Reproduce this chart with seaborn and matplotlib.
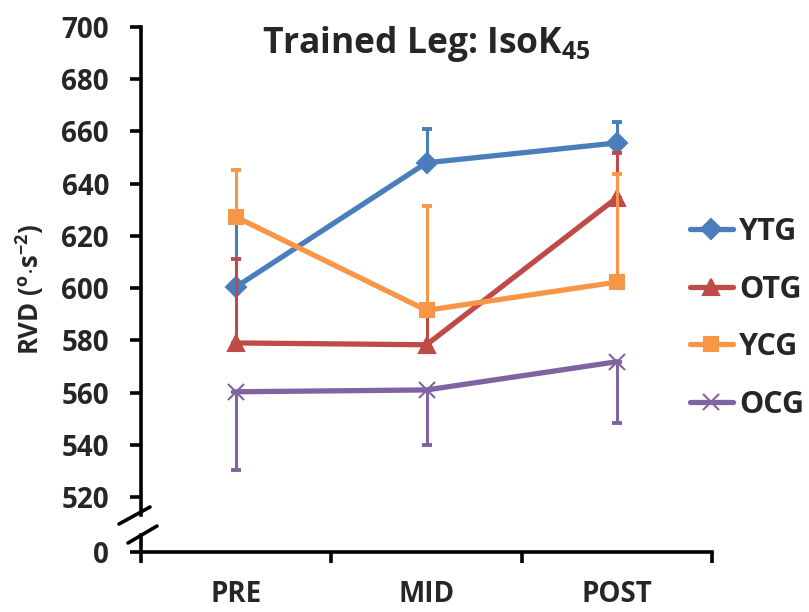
import matplotlib
matplotlib.use("Agg")
import matplotlib.pyplot as plt
import seaborn as sns
import numpy as np
from matplotlib.lines import Line2D

# ---- data ----
categories = ["PRE", "MID", "POST"]
series_names = ["YTG", "OTG", "YCG", "OCG"]
ytg = [600.5, 648.0, 655.6]
otg = [579.0, 578.3, 634.6]
ycg = [627.2, 591.5, 602.3]
ocg = [560.3, 561.0, 571.8]
ytg_err_up = [25.0, 13.0, 8.0]
otg_err_up = [32.0, 14.0, 17.0]
ycg_err_up = [18.0, 40.0, 41.5]
ocg_err_down = [30.0, 21.0, 23.5]
yticks_main = [520, 540, 560, 580, 600, 620, 640, 660, 680, 700]

sns.set_theme(style="white")
FONT = 'Open Sans'
plt.rcParams['font.family'] = [FONT, 'DejaVu Sans']
plt.rcParams['font.weight'] = 'bold'
plt.rcParams['mathtext.fontset'] = 'custom'
plt.rcParams['mathtext.rm'] = FONT + ':bold'
plt.rcParams['mathtext.it'] = FONT + ':bold'
plt.rcParams['mathtext.bf'] = FONT + ':bold'

W, H = 809, 612
fig = plt.figure(figsize=(W / 100, H / 100), dpi=100)

def fx(px):
    return px / W

def fy(py):
    return 1 - py / H

ppu = 470 / 180.0
left_px, right_px = 141, 712
top_px, bot_px = 27, 515
ax = fig.add_axes([fx(left_px), fy(bot_px), fx(right_px) - fx(left_px), fy(top_px) - fy(bot_px)])
ax2 = fig.add_axes([fx(left_px), fy(552), fx(right_px) - fx(left_px), fy(535) - fy(552)])

colors = {"YTG": "#4A7EBB", "OTG": "#BE4B48", "YCG": "#F79646", "OCG": "#8064A2"}
markers = {"YTG": "D", "OTG": "^", "YCG": "s", "OCG": "x"}
msizes = {"YTG": 10, "OTG": 12, "YCG": 10, "OCG": 12}
values = {"YTG": ytg, "OTG": otg, "YCG": ycg, "OCG": ocg}
errs = {
    "YTG": [np.zeros(3), ytg_err_up],
    "OTG": [np.zeros(3), otg_err_up],
    "YCG": [np.zeros(3), ycg_err_up],
    "OCG": [ocg_err_down, np.zeros(3)],
}

xpos = np.arange(len(categories))
handles = []
for i, name in enumerate(series_names):
    c = colors[name]
    z = 3 + i
    ax.errorbar(xpos, values[name], yerr=errs[name], fmt='none', ecolor=c,
                elinewidth=2.2, capsize=3.5, capthick=2.8, zorder=z)
    sns.lineplot(x=xpos, y=values[name], ax=ax, color=c, lw=3.8,
                 marker=markers[name], markersize=msizes[name],
                 markeredgecolor=c, markerfacecolor=c,
                 markeredgewidth=1.5, zorder=z + 0.5, legend=False)
    handles.append(Line2D([0], [0], color=c, lw=3.8, marker=markers[name],
                          markersize=msizes[name], markeredgecolor=c,
                          markerfacecolor=c, markeredgewidth=1.5))

TICK_FS = 20
# main axes styling
ax.set_xlim(-0.5, 2.5)
ax.set_ylim(520 - (bot_px - 497) / ppu, 700)
ax.set_yticks(yticks_main)
ax.set_yticklabels([str(v) for v in yticks_main])
ax.set_xticks([])
for s in ["top", "right", "bottom"]:
    ax.spines[s].set_visible(False)
ax.spines["left"].set_linewidth(2.6)
ax.spines["left"].set_color("black")
ax.tick_params(axis='y', direction='out', length=8, width=2.6, color='black',
               pad=15, labelsize=TICK_FS, left=True)
ax.grid(False)

# bottom axes (broken part showing 0)
ax2.set_xlim(-0.5, 2.5)
ax2.set_ylim(0, (552 - 535) / ppu)
ax2.set_yticks([0])
ax2.set_yticklabels(["0"])
for s in ["top", "right"]:
    ax2.spines[s].set_visible(False)
for s in ["left", "bottom"]:
    ax2.spines[s].set_linewidth(2.6)
    ax2.spines[s].set_color("black")
ax2.tick_params(axis='y', direction='out', length=8, width=2.6, color='black',
                pad=15, labelsize=TICK_FS, left=True)
ax2.set_xticks([-0.5, 0.5, 1.5, 2.5])
ax2.set_xticklabels([])
ax2.set_xticks(xpos, minor=True)
ax2.set_xticklabels(categories, minor=True)
ax2.tick_params(axis='x', which='major', direction='out', length=8, width=2.6,
                color='black', bottom=True)
ax2.tick_params(axis='x', which='minor', length=0, pad=20, labelsize=TICK_FS)
ax2.patch.set_alpha(0)
ax2.grid(False)

# break marks
for (x0, y0, x1, y1) in [(119, 524, 150, 507), (128, 543, 157, 526)]:
    fig.add_artist(Line2D([fx(x0), fx(x1)], [fy(y0), fy(y1)], color='black', lw=2.6,
                          transform=fig.transFigure))

# title and y label
fig.text(fx(426), fy(44), r"Trained Leg: IsoK$_{45}$", ha='center', va='center',
         fontsize=25.5, fontweight='bold')
fig.text(fx(30), fy(289), r"RVD ($^{\mathrm{o}}$$\cdot$s$^{-2}$)", rotation=90,
         ha='center', va='center', fontsize=18.5, fontweight='bold')

leg = fig.legend(handles, series_names, loc='upper left',
                 bbox_to_anchor=(fx(690), fy(217)), frameon=False,
                 prop={'size': 22, 'weight': 'bold'}, handlelength=1.4, handletextpad=0.2,
                 labelspacing=0.9, borderpad=0, borderaxespad=0)

fig.savefig("out.png", dpi=100)
